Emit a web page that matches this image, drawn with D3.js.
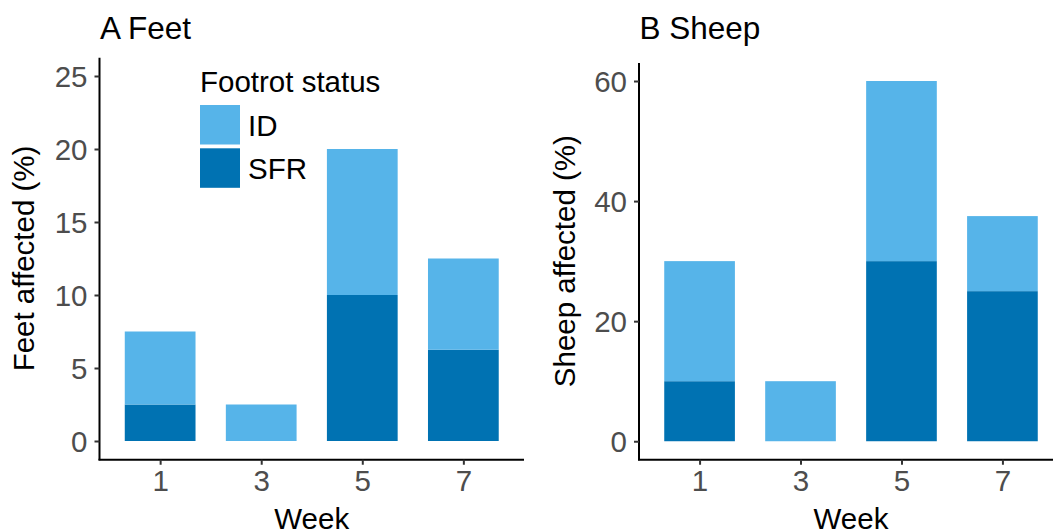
<!DOCTYPE html>
<html><head><meta charset="utf-8">
<script src="https://cdn.jsdelivr.net/npm/d3@7"></script>
<style>body{margin:0;background:#fff}svg text{font-family:"Liberation Sans",Arial,sans-serif}</style>
</head><body><svg id="c" width="1053" height="531"></svg>
<script>
const weeks = ["1","3","5","7"];
const feetSFR = [2.5, 0, 10, 6.25];
const feetID = [5, 2.5, 10, 6.25];
const sheepSFR = [10, 0, 30, 25];
const sheepID = [20, 10, 30, 12.5];
const feetTicks = [0,5,10,15,20,25];
const sheepTicks = [0,20,40,60];
const statuses = ["ID","SFR"];
const colors = {ID:"#56B4E9", SFR:"#0072B2"};

const svg = d3.select("#c");
const FS = 29.5;

function panel(opt){
  const g = svg.append("g");
  // ggplot discrete scale: expand 0.6 on each side, bar width 0.7
  const x = d3.scaleLinear().domain([0.4, weeks.length + 0.6]).range([opt.x0, opt.x1]);
  const cx = d => x(weeks.indexOf(d) + 1);
  const bw = x(1.7) - x(1);
  const y = d3.scaleLinear().domain([opt.ymax*-0.05, opt.ymax*1.05]).range([459.25, opt.ytop]);
  const rows = weeks.map((w,i)=>({week:w, SFR:opt.sfr[i], ID:opt.id[i]}));
  const stack = d3.stack().keys(["SFR","ID"])(rows);
  stack.forEach(layer=>{
    g.selectAll(null).data(layer.filter(d=>d[1]-d[0]>0)).enter().append("rect")
      .attr("x", d=>cx(d.data.week)-bw/2).attr("width", bw)
      .attr("y", d=>y(d[1])).attr("height", d=>y(d[0])-y(d[1]))
      .attr("fill", colors[layer.key]);
  });
  // y axis
  const ya = g.append("g").attr("transform",`translate(${opt.x0},0)`)
    .call(d3.axisLeft(y).tickValues(opt.ticks).tickSize(5).tickPadding(7));
  ya.select(".domain").attr("d",`M0,${y.range()[0]+1}V${y.range()[1]}`).attr("stroke","#000").attr("stroke-width",2);
  ya.selectAll(".tick line").attr("stroke","#333").attr("stroke-width",2);
  ya.selectAll(".tick text").attr("fill","#4D4D4D").style("font-size",FS+"px").attr("dy","0.36em");
  // x axis
  const xs = d3.scalePoint().domain(weeks).range([cx(weeks[0]), cx(weeks[weeks.length-1])]);
  const xa = g.append("g").attr("transform",`translate(0,${y.range()[0]+0.5})`)
    .call(d3.axisBottom(xs).tickSize(5).tickPadding(5));
  xa.select(".domain").attr("d",`M${opt.x0-1},0H${opt.x1}`).attr("stroke","#000").attr("stroke-width",2);
  xa.selectAll(".tick line").attr("stroke","#333").attr("stroke-width",2);
  xa.selectAll(".tick text").attr("fill","#4D4D4D").style("font-size",FS+"px").attr("dy","0.71em");
  // titles
  g.append("text").attr("x",opt.x0+0.5).attr("y",38.5).text(opt.title).style("font-size","31.5px").attr("fill","#000");
  g.append("text").attr("x",(opt.x0+opt.x1)/2).attr("y",529).attr("text-anchor","middle").text("Week").style("font-size",FS+"px");
  g.append("text").attr("transform",`translate(${opt.ylabX},${(y.range()[0]+y.range()[1])/2}) rotate(-90)`)
    .attr("text-anchor","middle").text(opt.ylab).style("font-size",FS+"px");
  return g;
}

panel({x0:99.5, x1:524, ymax:25, ytop:57.75, ticks:feetTicks, sfr:feetSFR, id:feetID, title:"A Feet", ylab:"Feet affected (%)", ylabX:34});
panel({x0:639, x1:1063, ymax:60, ytop:63, ticks:sheepTicks, sfr:sheepSFR, id:sheepID, title:"B Sheep", ylab:"Sheep affected (%)", ylabX:575});

// legend
const lg = svg.append("g");
lg.append("text").attr("x",200).attr("y",92).text("Footrot status").style("font-size",FS+"px");
statuses.forEach((s,i)=>{
  lg.append("rect").attr("x",200).attr("y",105+i*43.3).attr("width",40).attr("height",39.5).attr("fill",colors[s]);
  lg.append("text").attr("x",248).attr("y",105+i*43.3+20).attr("dy","0.36em").text(s).style("font-size",FS+"px");
});
</script></body></html>
